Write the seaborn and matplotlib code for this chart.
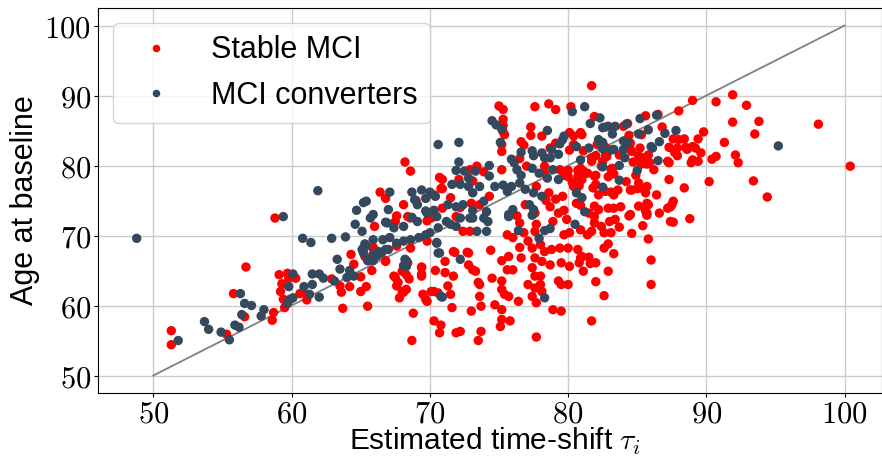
import numpy as np
import pandas as pd
import seaborn as sns
import matplotlib
matplotlib.use("Agg")
import matplotlib.pyplot as plt
from matplotlib.ticker import FuncFormatter, MultipleLocator

# values (estimated time-shift, age at baseline)
stable_x = [
    55.8, 51.3, 51.3, 55.3, 56.7, 56.6, 58.6, 58.7, 59.1, 59.2, 59.3, 59.4, 59.5, 59.7, 59.8, 60.3,
    60.6, 60.8, 61.1, 62.9, 63.5, 63.6, 63.7, 64.2, 64.3, 64.5, 65.0, 65.0, 65.4, 65.5, 65.8, 65.9,
    66.8, 67.5, 67.7, 67.8, 68.1, 68.3, 68.0, 68.3, 68.5, 68.4, 68.8, 68.7, 69.4, 69.4, 69.5, 69.7,
    70.3, 70.4, 70.3, 70.7, 70.8, 58.8, 68.2, 68.6, 70.7, 66.4, 66.8, 68.1, 69.0, 70.8, 67.5, 68.4,
    69.8, 66.0, 70.9, 72.1, 72.9, 70.9, 70.3, 71.5, 70.9, 72.2, 73.0, 70.1, 67.6, 75.0, 75.3, 77.6,
    78.6, 79.1, 81.7, 81.9, 75.3, 75.3, 75.3, 75.2, 77.3, 77.3, 78.1, 76.6, 76.8, 80.1, 80.4, 81.1,
    76.5, 78.7, 79.1, 80.1, 73.4, 73.9, 75.2, 77.0, 78.3, 78.3, 79.4, 79.7, 80.0, 80.0, 80.7, 80.7,
    80.4, 80.6, 77.7, 78.6, 78.4, 79.1, 79.6, 76.9, 77.6, 78.7, 79.3, 79.7, 76.3, 73.1, 73.6, 74.3,
    80.6, 89.0, 90.7, 91.9, 92.9, 91.9, 93.8, 93.5, 98.1, 100.4, 91.3, 92.1, 92.3, 93.4, 94.4, 90.2,
    90.7, 90.4, 89.8, 89.4, 89.6, 89.4, 88.9, 88.0, 88.4, 89.0, 88.5, 88.4, 87.9, 87.7, 88.0, 87.6,
    87.3, 87.3, 87.3, 87.6, 87.4, 87.4, 87.6, 88.8, 86.5, 86.8, 85.8, 86.2, 85.6, 85.7, 85.6, 85.6,
    85.3, 84.3, 84.0, 84.4, 84.5, 85.2, 84.6, 85.1, 85.4, 84.7, 85.3, 85.7, 84.9, 84.2, 84.6, 85.0,
    85.4, 83.3, 83.1, 82.7, 83.1, 83.8, 84.4, 83.3, 82.9, 82.2, 81.9, 80.9, 80.9, 82.1, 82.7, 82.7,
    82.0, 82.4, 82.9, 82.0, 82.0, 81.0, 80.4, 81.7, 81.4, 80.9, 80.3, 80.8, 81.9, 83.2, 83.6, 81.8,
    82.2, 83.3, 84.5, 85.1, 85.7, 86.4, 87.2, 87.9, 88.6, 89.2, 89.0, 87.5, 87.2, 85.8, 85.1, 84.5,
    81.9, 81.5, 85.7, 86.6, 85.9, 85.1, 84.5, 83.7, 82.8, 82.5, 81.7, 81.1, 81.0, 80.2, 68.6, 70.1,
    71.9, 72.4, 72.9, 65.9, 65.3, 66.8, 67.6, 68.6, 69.8, 69.4, 69.4, 71.1, 71.1, 71.7, 71.7, 72.8,
    72.8, 73.3, 67.4, 67.6, 68.0, 69.8, 70.1, 70.6, 71.3, 71.5, 71.6, 73.0, 71.9, 72.2, 74.4, 73.1,
    75.2, 75.7, 75.6, 76.0, 76.5, 76.6, 77.4, 77.6, 78.0, 78.1, 78.3, 78.7, 78.8, 79.4, 79.5, 80.0,
    80.1, 80.7, 80.9, 81.1, 77.4, 77.6, 78.0, 77.1, 77.6, 78.0, 78.1, 79.3, 79.5, 80.0, 73.6, 74.5,
    75.2, 75.2, 75.4, 75.7, 77.4, 77.7, 73.6, 73.7, 74.7, 75.2, 76.4, 78.9, 79.5, 75.2, 75.8, 75.1,
    73.7, 73.5, 77.7, 79.7, 80.1, 80.9, 76.5, 77.7, 78.9, 79.9, 75.6, 76.0, 76.8, 77.1, 77.6, 85.8,
    86.0, 86.0, 84.6, 83.3, 82.9, 82.6, 81.7, 82.0, 82.0, 81.6, 80.8, 81.0, 81.5, 82.6, 82.9, 83.1,
    71.8, 72.7, 73.5, 85.4, 85.7, 83.7, 83.4, 83.0, 82.6, 82.4, 81.9, 81.7, 81.4, 75.4, 75.2,
]
stable_y = [
    61.7, 56.4, 54.4, 55.9, 65.5, 58.4, 57.9, 59.0, 64.4, 62.0, 63.1, 60.9, 59.7, 64.6, 63.9, 63.9,
    61.7, 61.9, 60.8, 63.8, 62.8, 61.9, 59.6, 62.7, 67.3, 65.9, 64.1, 62.0, 62.7, 59.9, 65.0, 68.3,
    66.4, 64.0, 63.3, 61.1, 61.9, 62.3, 64.9, 64.4, 63.8, 66.1, 58.9, 55.0, 64.5, 65.5, 61.6, 60.9,
    57.8, 65.0, 62.0, 56.1, 57.2, 72.5, 80.5, 79.2, 78.3, 76.2, 75.3, 74.4, 75.0, 76.7, 72.0, 72.7,
    72.1, 71.3, 78.0, 78.0, 79.4, 76.7, 75.8, 75.4, 73.9, 74.0, 74.6, 72.8, 72.8, 88.5, 88.0, 88.4,
    88.8, 88.0, 91.4, 87.0, 86.6, 85.7, 84.8, 82.0, 85.5, 84.3, 84.2, 83.4, 82.9, 84.7, 84.2, 82.1,
    81.0, 82.5, 83.2, 82.2, 79.9, 79.1, 79.4, 79.9, 79.9, 78.9, 79.4, 78.6, 79.3, 78.4, 79.3, 78.4,
    77.0, 77.0, 77.0, 76.1, 75.0, 75.2, 75.6, 74.4, 73.2, 74.1, 73.2, 73.6, 72.8, 77.8, 74.4, 75.6,
    74.6, 89.3, 89.1, 90.1, 88.6, 86.2, 86.3, 84.5, 85.9, 79.9, 83.3, 81.5, 80.4, 77.8, 75.5, 77.7,
    81.3, 80.9, 84.8, 83.8, 81.8, 80.6, 80.4, 87.8, 76.8, 82.7, 82.6, 83.8, 82.5, 81.9, 83.7, 83.8,
    82.6, 80.4, 78.0, 74.9, 74.1, 72.0, 71.9, 72.4, 87.3, 85.5, 81.5, 79.4, 76.1, 74.6, 73.5, 87.1,
    84.4, 86.0, 85.6, 84.3, 83.2, 82.5, 82.0, 81.4, 81.1, 80.5, 80.2, 80.2, 78.6, 77.7, 76.5, 76.7,
    76.7, 78.8, 79.5, 76.3, 76.2, 74.1, 72.8, 73.9, 73.9, 73.7, 72.7, 74.3, 84.7, 83.0, 82.6, 81.5,
    81.4, 79.9, 78.4, 78.6, 77.3, 84.4, 83.0, 81.1, 78.9, 79.6, 77.6, 77.1, 78.5, 79.6, 76.5, 76.8,
    75.8, 75.8, 76.5, 77.5, 77.0, 75.8, 80.6, 81.4, 82.3, 82.5, 80.8, 74.4, 73.9, 74.4, 74.2, 73.0,
    74.2, 73.2, 73.2, 73.2, 80.4, 80.8, 82.3, 81.5, 81.3, 80.6, 80.6, 79.2, 78.0, 88.4, 72.5, 72.5,
    72.7, 70.6, 70.6, 68.2, 67.0, 66.3, 68.5, 68.2, 69.2, 65.4, 64.2, 66.3, 64.7, 64.2, 67.7, 67.5,
    65.8, 64.9, 64.2, 62.8, 62.0, 60.6, 62.0, 61.8, 62.8, 61.6, 59.7, 59.2, 56.1, 56.3, 67.9, 65.1,
    66.4, 67.0, 65.1, 65.1, 68.3, 66.8, 68.2, 66.8, 68.7, 66.3, 67.7, 65.8, 68.0, 68.2, 66.1, 68.2,
    65.6, 68.0, 66.8, 64.9, 65.4, 64.2, 64.2, 63.0, 62.5, 63.0, 62.0, 63.5, 63.0, 63.0, 63.0, 63.9,
    63.5, 62.3, 61.6, 61.3, 61.3, 60.4, 61.3, 59.9, 60.1, 59.4, 60.6, 59.4, 59.2, 58.0, 57.8, 57.0,
    56.3, 55.0, 55.5, 70.1, 70.4, 70.8, 71.8, 71.6, 72.0, 72.3, 70.1, 69.7, 70.4, 69.2, 70.6, 69.5,
    66.5, 63.0, 70.3, 67.4, 64.9, 61.4, 57.8, 63.4, 66.1, 66.0, 66.1, 67.0, 66.9, 68.2, 68.8, 70.4,
    67.6, 67.6, 63.3, 71.4, 72.9, 71.2, 72.3, 72.0, 70.4, 71.3, 71.8, 70.6, 70.1, 84.4, 83.0,
]

conv_x = [
    48.8, 51.8, 53.7, 54.0, 54.9, 55.5, 55.9, 56.3, 56.2, 56.6, 57.1, 56.4, 57.8, 58.0, 59.4, 59.8,
    60.1, 59.9, 60.1, 59.7, 60.8, 61.4, 60.9, 61.3, 61.5, 61.5, 62.0, 62.0, 62.3, 61.9, 62.9, 63.9,
    63.1, 63.3, 63.5, 64.0, 64.2, 64.5, 64.7, 65.2, 64.6, 65.1, 65.2, 65.1, 65.3, 65.9, 65.5, 66.2,
    66.5, 67.0, 68.3, 68.1, 70.5, 70.7, 70.8, 70.6, 67.1, 65.4, 65.9, 67.0, 68.7, 69.4, 70.0, 70.4,
    69.7, 66.8, 68.7, 69.7, 70.3, 72.1, 72.1, 71.9, 72.5, 72.8, 71.6, 72.2, 72.8, 68.9, 69.1, 71.3,
    71.9, 72.4, 69.8, 80.3, 81.2, 82.3, 74.5, 74.8, 75.2, 75.1, 78.5, 79.4, 79.6, 79.7, 80.6, 76.6,
    77.4, 77.5, 75.9, 76.1, 78.1, 78.3, 78.8, 78.7, 79.3, 74.3, 73.3, 74.3, 76.3, 76.6, 77.4, 77.9,
    78.5, 78.9, 79.3, 80.6, 81.0, 74.7, 75.3, 75.6, 75.9, 76.5, 76.9, 77.5, 78.1, 77.2, 77.5, 75.7,
    76.0, 73.1, 73.6, 73.9, 73.1, 74.1, 95.2, 87.8, 87.0, 86.6, 86.4, 85.8, 86.0, 86.1, 86.5, 85.2,
    85.1, 84.2, 84.0, 84.3, 84.1, 85.0, 83.7, 82.5, 81.2, 81.6, 82.5, 82.9, 83.4, 83.2, 82.2, 82.5,
    83.1, 81.5, 82.5, 82.7, 84.0, 83.3, 82.3, 80.9, 83.7, 82.5, 65.7, 66.9, 67.4, 68.1, 69.1, 70.5,
    71.2, 72.2, 72.9, 65.9, 66.6, 67.1, 67.6, 68.1, 68.6, 69.2, 69.7, 70.0, 70.6, 71.5, 71.9, 65.4,
    65.2, 65.9, 66.3, 66.8, 68.2, 68.3, 70.6, 70.5, 72.2, 70.9, 73.1, 73.9, 74.2, 75.7, 73.4, 74.1,
    76.4, 77.4, 78.3, 78.7, 80.5, 77.9, 78.3,
]
conv_y = [
    69.6, 55.0, 57.7, 56.6, 56.2, 55.1, 57.2, 61.7, 56.9, 60.3, 60.0, 58.7, 58.5, 59.4, 72.7, 62.7,
    64.5, 60.9, 61.1, 60.3, 69.6, 69.0, 62.7, 61.6, 63.0, 64.5, 64.5, 61.2, 63.9, 76.4, 69.6, 69.8,
    63.5, 66.6, 65.2, 64.0, 65.0, 64.2, 73.6, 74.7, 71.6, 70.6, 68.2, 68.0, 68.8, 66.4, 66.4, 67.1,
    67.5, 68.0, 66.4, 65.7, 69.0, 67.5, 61.3, 83.0, 76.2, 74.9, 73.0, 73.7, 76.2, 76.5, 76.2, 75.6,
    75.3, 71.9, 72.6, 73.5, 73.6, 83.3, 80.5, 79.3, 79.2, 78.2, 77.3, 77.3, 77.0, 75.1, 74.4, 74.4,
    74.1, 74.4, 73.2, 87.7, 88.4, 86.8, 86.4, 85.8, 85.2, 83.3, 85.0, 83.1, 83.7, 84.2, 82.7, 81.9,
    82.1, 81.4, 80.9, 80.4, 81.8, 81.1, 82.3, 81.1, 81.6, 80.0, 79.2, 78.5, 79.4, 78.6, 79.6, 78.9,
    78.2, 79.4, 78.0, 76.1, 75.4, 77.0, 77.2, 76.3, 77.0, 77.5, 76.6, 76.1, 75.6, 74.4, 73.7, 73.0,
    73.7, 76.1, 77.0, 74.9, 73.6, 73.4, 82.8, 85.0, 84.6, 83.4, 87.2, 85.1, 82.7, 82.5, 80.7, 86.7,
    84.5, 85.9, 83.5, 83.3, 81.1, 79.3, 77.9, 76.9, 73.4, 86.0, 85.4, 85.6, 85.6, 84.5, 83.7, 83.3,
    82.2, 82.5, 79.8, 85.5, 82.3, 82.3, 83.3, 80.8, 80.0, 82.4, 72.5, 71.8, 71.1, 71.3, 72.0, 72.7,
    72.0, 72.5, 72.5, 69.4, 69.4, 69.7, 68.9, 69.2, 69.4, 69.7, 70.1, 70.4, 71.1, 71.6, 71.3, 68.5,
    67.5, 67.3, 67.7, 68.0, 66.6, 65.6, 67.5, 68.9, 66.6, 61.2, 72.5, 72.5, 72.0, 72.7, 70.6, 70.6,
    70.7, 72.9, 70.7, 71.0, 71.6, 69.6, 61.1,
]

diag = [50, 100]

df = pd.DataFrame({
    "tau": stable_x + conv_x,
    "age": stable_y + conv_y,
    "group": ["Stable MCI"] * len(stable_x) + ["MCI converters"] * len(conv_x),
})

plt.rcParams["font.family"] = ["Liberation Sans", "DejaVu Sans"]
plt.rcParams["mathtext.fontset"] = "cm"

fig, ax = plt.subplots(figsize=(8.82, 4.57), dpi=100)
fig.subplots_adjust(left=98 / 882, right=1.0, top=1 - 8 / 457, bottom=1 - 393 / 457)

ax.grid(True, color="0.8", linewidth=1)
ax.set_axisbelow(True)

sns.lineplot(x=diag, y=diag, color="gray", linewidth=1.3, ax=ax, zorder=1)
sns.scatterplot(data=df, x="tau", y="age", hue="group",
                palette={"Stable MCI": "#ff0000", "MCI converters": "#34495e"},
                s=46, linewidth=0, ax=ax, zorder=2)

ax.set_xlim(46.0, 102.7)
ax.set_ylim(47.5, 102.5)
ax.xaxis.set_major_locator(MultipleLocator(10))
ax.yaxis.set_major_locator(MultipleLocator(10))
fmt = FuncFormatter(lambda v, p: f"${v:.0f}$")
ax.xaxis.set_major_formatter(fmt)
ax.yaxis.set_major_formatter(fmt)
ax.tick_params(labelsize=22, length=3, pad=2)

ax.set_xlabel(r"Estimated time-shift $\tau_i$", fontsize=21.5, labelpad=-3, x=0.506)
ax.set_ylabel("Age at baseline", fontsize=22, labelpad=3)

handles, labels = ax.get_legend_handles_labels()
ax.legend(handles, labels, loc="upper left", fontsize=22, markerscale=0.8)

fig.savefig("out.png", dpi=100)
